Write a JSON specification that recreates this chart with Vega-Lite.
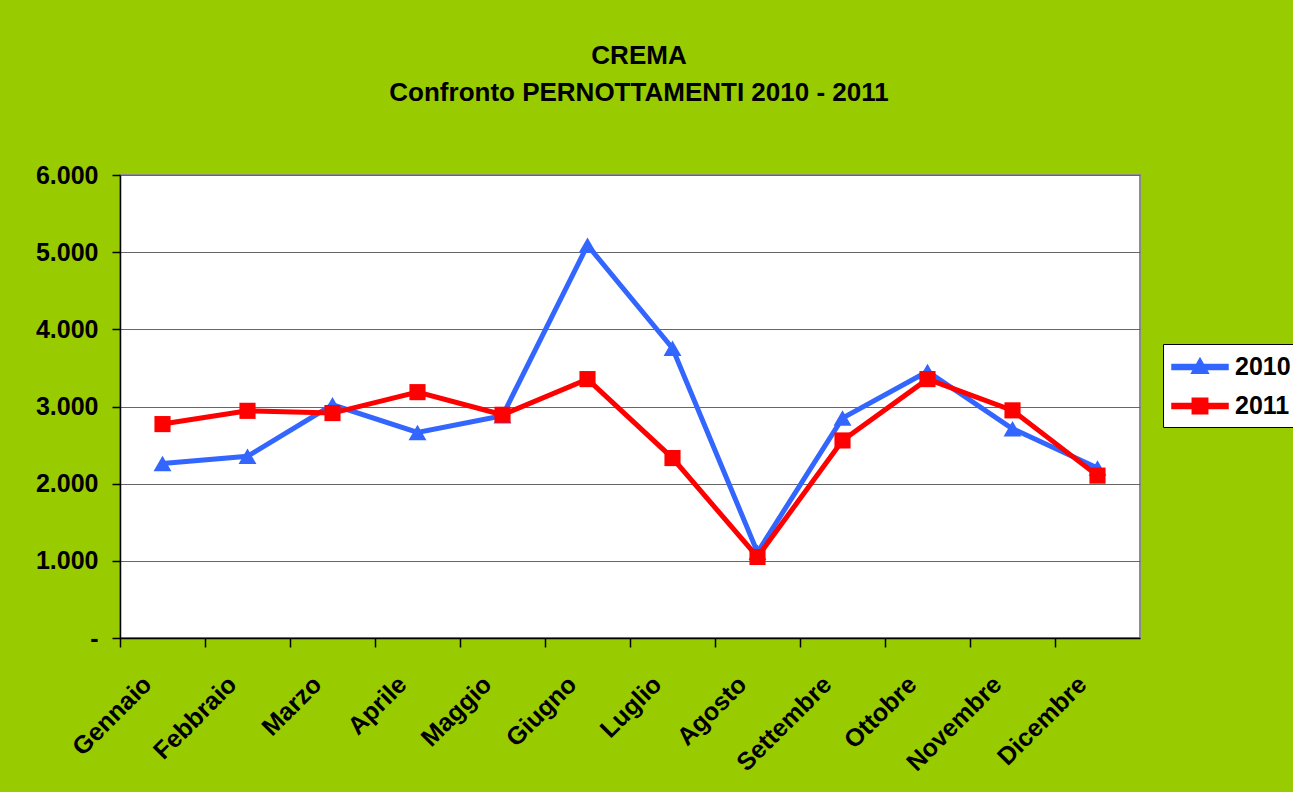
{
  "$schema": "https://vega.github.io/schema/vega-lite/v6.json",
  "width": 1020,
  "height": 463,
  "autosize": {"type": "none"},
  "padding": {"left": 120, "top": 175, "right": 153, "bottom": 154},
  "background": "#99CC00",
  "title": {
    "text": ["CREMA", "Confronto PERNOTTAMENTI 2010 - 2011"],
    "font": "Liberation Sans",
    "fontSize": 26,
    "fontWeight": "bold",
    "color": "#000000",
    "lineHeight": 37,
    "anchor": "middle",
    "frame": "group",
    "baseline": "bottom",
    "dx": 9,
    "offset": 31
  },
  "config": {
    "view": {"fill": "#FFFFFF", "stroke": "#8C8C8C", "strokeWidth": 2},
    "axis": {
      "labelFont": "Liberation Sans",
      "labelFontSize": 25,
      "labelFontWeight": "bold",
      "labelColor": "#000000",
      "domainColor": "#000000",
      "domainWidth": 1.5,
      "tickColor": "#000000",
      "tickWidth": 1.5,
      "title": null
    }
  },
  "data": {
    "values": [
      {"month": "Gennaio", "series": "2010", "value": 2260},
      {"month": "Febbraio", "series": "2010", "value": 2355},
      {"month": "Marzo", "series": "2010", "value": 3022},
      {"month": "Aprile", "series": "2010", "value": 2664},
      {"month": "Maggio", "series": "2010", "value": 2880},
      {"month": "Giugno", "series": "2010", "value": 5090},
      {"month": "Luglio", "series": "2010", "value": 3755},
      {"month": "Agosto", "series": "2010", "value": 1110},
      {"month": "Settembre", "series": "2010", "value": 2850},
      {"month": "Ottobre", "series": "2010", "value": 3453},
      {"month": "Novembre", "series": "2010", "value": 2712},
      {"month": "Dicembre", "series": "2010", "value": 2203},
      {"month": "Gennaio", "series": "2011", "value": 2772},
      {"month": "Febbraio", "series": "2011", "value": 2944},
      {"month": "Marzo", "series": "2011", "value": 2915},
      {"month": "Aprile", "series": "2011", "value": 3186},
      {"month": "Maggio", "series": "2011", "value": 2893},
      {"month": "Giugno", "series": "2011", "value": 3355},
      {"month": "Luglio", "series": "2011", "value": 2332},
      {"month": "Agosto", "series": "2011", "value": 1050},
      {"month": "Settembre", "series": "2011", "value": 2560},
      {"month": "Ottobre", "series": "2011", "value": 3355},
      {"month": "Novembre", "series": "2011", "value": 2950},
      {"month": "Dicembre", "series": "2011", "value": 2104}
    ]
  },
  "encoding": {
    "x": {
      "field": "month",
      "type": "nominal",
      "sort": ["Gennaio", "Febbraio", "Marzo", "Aprile", "Maggio", "Giugno", "Luglio", "Agosto", "Settembre", "Ottobre", "Novembre", "Dicembre"],
      "scale": {"type": "band", "paddingInner": 0, "paddingOuter": 0},
      "axis": {
        "bandPosition": 0,
        "tickSize": 9,
        "labelAngle": -45,
        "labelAlign": "right",
        "labelBaseline": "middle",
        "labelPadding": 33,
        "labelOffset": -15,
        "labelOverlap": false,
        "labelBound": false,
        "labelFlush": false,
        "grid": false
      }
    },
    "y": {
      "field": "value",
      "type": "quantitative",
      "scale": {"domain": [0, 6000], "nice": false},
      "axis": {
        "values": [0, 1000, 2000, 3000, 4000, 5000, 6000],
        "tickSize": 8,
        "labelPadding": 14,
        "grid": true,
        "gridColor": "#666666",
        "gridWidth": 1.2,
        "labelExpr": "datum.value == 0 ? '-' : replace(format(datum.value, ','), ',', '.')"
      }
    }
  },
  "layer": [
    {
      "mark": {"type": "line", "strokeWidth": 5},
      "encoding": {
        "color": {
          "field": "series",
          "type": "nominal",
          "scale": {"domain": ["2010", "2011"], "range": ["#3366FF", "#FF0000"]},
          "legend": {
            "title": null,
            "orient": "none",
            "legendX": 1043,
            "legendY": 169,
            "fillColor": "#FFFFFF",
            "strokeColor": "#000000",
            "padding": 8,
            "symbolSize": 784,
            "symbolOpacity": 1,
            "rowPadding": 11,
            "labelOffset": 34,
            "labelFont": "Liberation Sans",
            "labelFontSize": 25,
            "labelFontWeight": "bold",
            "labelColor": "#000000",
            "encode": {
              "symbols": {
                "update": {
                  "fillOpacity": {"value": 1},
                  "opacity": {"value": 1}
                }
              }
            }
          }
        }
      }
    },
    {
      "mark": {"type": "point", "filled": true, "opacity": 0},
      "encoding": {
        "color": {"field": "series", "type": "nominal"},
        "shape": {
          "field": "series",
          "type": "nominal",
          "scale": {
            "domain": ["2010", "2011"],
            "range": [
              "M-1,-0.17L3,-0.17L3,0.17L-1,0.17Z M1,-0.62L1.6,0.45L0.4,0.45Z",
              "M-1,-0.17L3,-0.17L3,0.17L-1,0.17Z M0.45,-0.55L1.55,-0.55L1.55,0.55L0.45,0.55Z"
            ]
          },
          "legend": null
        }
      }
    },
    {
      "transform": [{"filter": "datum.series == '2010'"}],
      "mark": {"type": "point", "filled": true, "opacity": 1, "shape": "triangle-up", "size": 320, "color": "#3366FF"},
      "encoding": {}
    },
    {
      "transform": [{"filter": "datum.series == '2011'"}],
      "mark": {"type": "point", "filled": true, "opacity": 1, "shape": "square", "size": 260, "color": "#FF0000"},
      "encoding": {}
    }
  ]
}
